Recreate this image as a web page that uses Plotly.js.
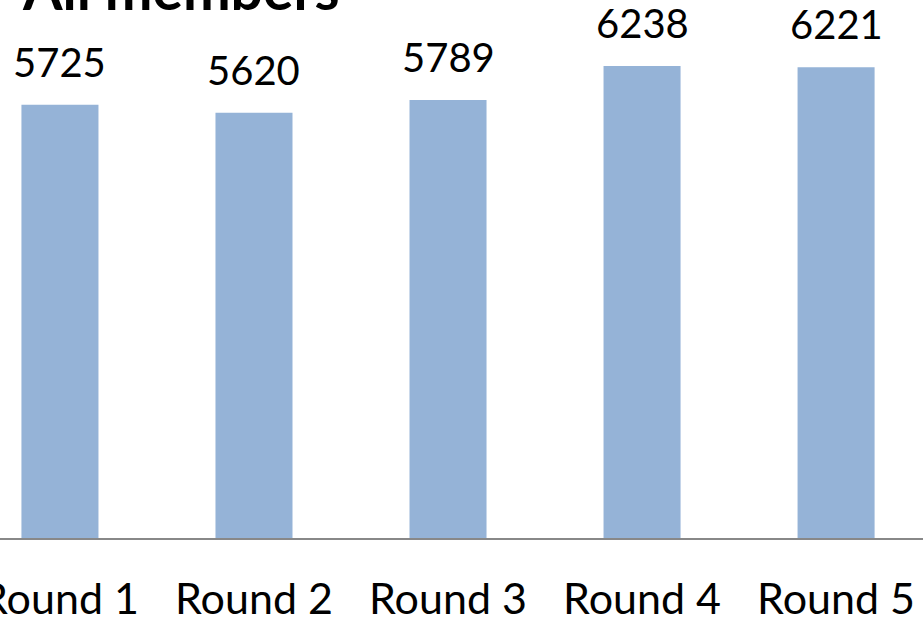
<!DOCTYPE html>
<html>
<head>
<meta charset="utf-8">
<script src="https://cdn.plot.ly/plotly-3.0.1.min.js"></script>
<style>html,body{margin:0;padding:0;background:#fff;}#chart{width:923px;height:620px;}</style>
</head>
<body>
<div id="chart"></div>
<script>
const chartTitle = "All members";
const categories = ["Round 1", "Round 2", "Round 3", "Round 4", "Round 5"];
const members = [5725, 5620, 5789, 6238, 6221];

const trace = {
  type: "bar",
  x: categories,
  y: members,
  marker: {color: "#95B3D7"},
  hoverinfo: "x+y"
};

const annotations = categories.map((c, i) => ({
  x: c, y: members[i], xref: "x", yref: "y",
  text: String(members[i]), showarrow: false,
  xanchor: "center", yanchor: "bottom", yshift: 17,
  font: {family: "Lato, 'Open Sans', sans-serif", size: 40, color: "#000"}
}));
annotations.push({
  x: 20 / 923, y: 1, xref: "paper", yref: "paper",
  text: "<b>" + chartTitle + "</b>", showarrow: false,
  xanchor: "left", yanchor: "middle", yshift: 12,
  font: {family: "Lato, 'Open Sans', sans-serif", size: 57, color: "#000"}
});

const layout = {
  width: 923, height: 620,
  margin: {l: 0, r: 0, t: 0, b: 82},
  paper_bgcolor: "#fff", plot_bgcolor: "#fff",
  bargap: 0.603,
  showlegend: false,
  xaxis: {
    type: "category",
    range: [-0.309, 4.448],
    showline: true, linecolor: "#888888", linewidth: 2,
    showgrid: false, zeroline: false, ticks: "",
    tickfont: {family: "Lato, 'Open Sans', sans-serif", size: 43, color: "#000"},
    ticklabelstandoff: 22
  },
  yaxis: {
    range: [0, 7110],
    visible: false, showgrid: false, zeroline: false
  },
  annotations: annotations
};

Plotly.newPlot("chart", [trace], layout, {displayModeBar: false, staticPlot: true});
</script>
</body>
</html>
